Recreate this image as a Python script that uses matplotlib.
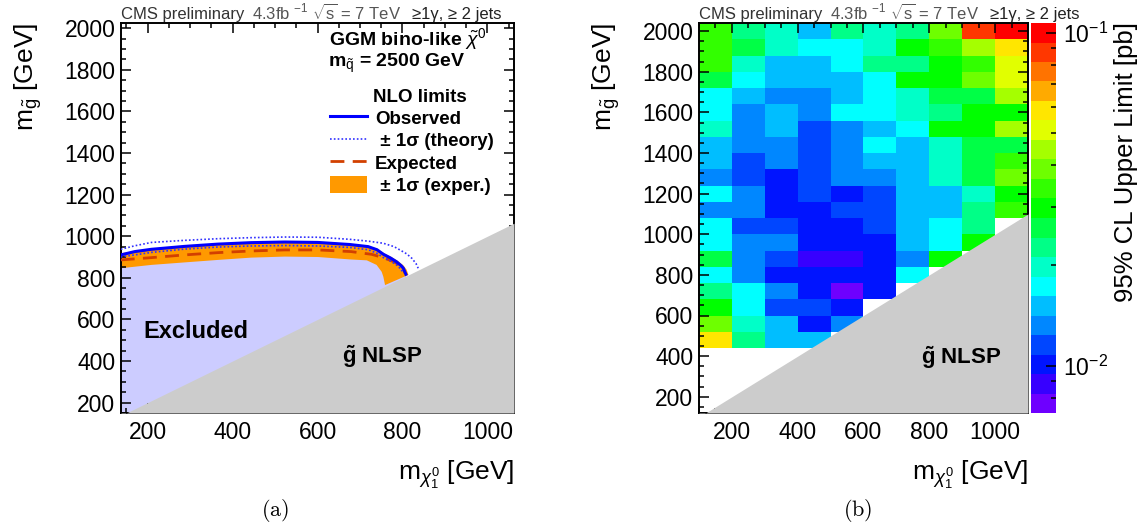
import matplotlib
matplotlib.use("Agg")
import matplotlib.pyplot as plt
from matplotlib.colors import ListedColormap, LogNorm
from matplotlib.ticker import MultipleLocator, NullFormatter, LogLocator
from matplotlib.lines import Line2D
from matplotlib.patches import Patch
import numpy as np

plt.rcParams['font.family'] = ['Liberation Sans', 'DejaVu Sans']
plt.rcParams['mathtext.fontset'] = 'custom'
plt.rcParams['mathtext.rm'] = 'Liberation Sans'
plt.rcParams['mathtext.it'] = 'Liberation Sans:italic'
plt.rcParams['mathtext.bf'] = 'Liberation Sans:bold'

# ---- (a) exclusion contours, m_chi (x) vs m_gluino (y) in GeV
obs_x = np.array([137, 170, 209, 287, 366, 444, 523, 601, 676, 719, 740, 755, 772, 786, 797, 802, 808])
obs_y = np.array([910, 926, 937, 951, 962, 969, 972, 970, 960, 950, 935, 913, 895, 877, 858, 846, 817])

theo_up_x = np.array([137, 170, 209, 287, 366, 444, 523, 601, 676, 720, 755, 780, 794, 810, 822, 832, 837])
theo_up_y = np.array([937, 954, 970, 980, 988, 993, 996, 995, 985, 976, 966, 950, 934, 915, 894, 868, 846])

theo_dn_x = np.array([137, 209, 287, 366, 444, 523, 601, 676, 719, 740, 755, 772, 786, 797, 802])
theo_dn_y = np.array([900, 922, 938, 948, 953, 955, 953, 946, 935, 918, 897, 880, 862, 840, 822])

exp_x = np.array([137, 209, 287, 366, 444, 523, 601, 679, 708, 727, 755, 780, 795, 802, 806])
exp_y = np.array([886, 897, 910, 921, 929, 934, 934, 926, 918, 913, 897, 877, 860, 848, 822])

band_hi_x = np.array([137, 209, 287, 366, 444, 523, 601, 676, 719, 740, 757, 774, 790, 803, 810, 814])
band_hi_y = np.array([918, 940, 954, 965, 972, 975, 973, 964, 954, 940, 918, 900, 880, 858, 838, 814])

band_lo_x = np.array([137, 209, 287, 366, 444, 523, 601, 679, 716, 739, 751, 755, 759])
band_lo_y = np.array([846, 862, 874, 886, 897, 902, 900, 888, 884, 862, 829, 805, 765])

# ---- (b) 95% CL upper limits [pb]
chi_edges = np.array([100, 200, 300, 400, 500, 600, 700, 800, 900, 1000, 1100])
glu_edges = np.array([440, 520, 600, 680, 760, 840, 920, 1000, 1080, 1160, 1240,
                      1320, 1400, 1480, 1560, 1640, 1720, 1800, 1880, 1960, 2040])
nan = np.nan
# rows listed from top (m_gluino = 2000) to bottom (480)
limits = [
    [0.0340, 0.0227, 0.0198, 0.0151, 0.0227, 0.0198, 0.0227, 0.0389, 0.0874, 0.100],
    [0.0340, 0.0259, 0.0198, 0.0173, 0.0173, 0.0198, 0.0297, 0.0340, 0.0445, 0.0583],
    [0.0340, 0.0198, 0.0151, 0.0151, 0.0173, 0.0227, 0.0227, 0.0297, 0.0340, 0.0509],
    [0.0259, 0.0173, 0.0151, 0.0151, 0.0151, 0.0173, 0.0297, 0.0297, 0.0389, 0.0509],
    [0.0173, 0.0151, 0.0132, 0.0132, 0.0151, 0.0173, 0.0198, 0.0259, 0.0259, 0.0445],
    [0.0173, 0.0132, 0.0151, 0.0132, 0.0173, 0.0173, 0.0198, 0.0227, 0.0297, 0.0297],
    [0.0198, 0.0132, 0.0151, 0.0116, 0.0132, 0.0151, 0.0173, 0.0297, 0.0297, 0.0445],
    [0.0151, 0.0132, 0.0132, 0.0116, 0.0132, 0.0173, 0.0151, 0.0198, 0.0259, 0.0259],
    [0.0151, 0.0116, 0.0132, 0.0116, 0.0132, 0.0151, 0.0151, 0.0198, 0.0259, 0.0340],
    [0.0132, 0.0116, 0.0101, 0.0116, 0.0132, 0.0132, 0.0151, 0.0198, 0.0259, 0.0389],
    [0.0173, 0.0132, 0.0101, 0.0116, 0.0101, 0.0116, 0.0151, 0.0151, 0.0198, 0.0297],
    [0.0132, 0.0132, 0.0101, 0.0101, 0.0116, 0.0116, 0.0151, 0.0151, 0.0227, 0.0340],
    [0.0173, 0.0116, 0.0116, 0.0101, 0.0101, 0.0116, 0.0151, 0.0173, 0.0227, nan],
    [0.0173, 0.0132, 0.0132, 0.0101, 0.0101, 0.0101, 0.0151, 0.0173, 0.0297, nan],
    [0.0259, 0.0132, 0.0116, 0.0088, 0.0088, 0.0101, 0.0132, 0.0297, nan, nan],
    [0.0173, 0.0132, 0.0101, 0.0101, 0.0101, 0.0101, 0.0173, nan, nan, nan],
    [0.0227, 0.0173, 0.0132, 0.0101, 0.0077, 0.0101, nan, nan, nan, nan],
    [0.0297, 0.0173, 0.0116, 0.0116, 0.0101, nan, nan, nan, nan, nan],
    [0.0389, 0.0198, 0.0151, 0.0101, 0.0132, nan, nan, nan, nan, nan],
    [0.0583, 0.0227, 0.0151, 0.0151, nan, nan, nan, nan, nan, nan],
]
z_min, z_max = 0.0072, 0.107

# ROOT-like 20 step rainbow palette
palette = ['#6e00ff', '#3700ff', '#0014ff', '#0046ff', '#0087ff', '#00beff', '#00ffff',
           '#00ffc8', '#00ff87', '#00ff46', '#00ff00', '#32ff00', '#6eff00', '#a5ff00',
           '#e1ff00', '#ffe600', '#ffaa00', '#ff7300', '#ff3700', '#ff0000']

W, H = 1146, 526
fig = plt.figure(figsize=(W / 100, H / 100), dpi=100)


def px(x0, y0, x1, y1):
    return [x0 / W, 1 - y1 / H, (x1 - x0) / W, (y1 - y0) / H]


ax_a = fig.add_axes(px(121, 23, 514, 413))
ax_b = fig.add_axes(px(699, 23, 1028, 413))
cax = fig.add_axes(px(1031, 23, 1056, 413))

gray = '#cccccc'


def style_axes(ax):
    ax.xaxis.set_major_locator(MultipleLocator(200))
    ax.xaxis.set_minor_locator(MultipleLocator(50))
    ax.yaxis.set_major_locator(MultipleLocator(200))
    ax.yaxis.set_minor_locator(MultipleLocator(50))
    ax.tick_params(which='both', direction='in', top=True, right=True, width=1.1,
                   labelsize=16.5)
    ax.tick_params(which='major', length=7.5)
    ax.tick_params(which='minor', length=3.8)
    ax.tick_params(axis='x', pad=6)
    ax.tick_params(axis='y', pad=4)
    for s in ax.spines.values():
        s.set_linewidth(1.4)


def header(ax):
    x0 = ax.get_position().x0 * W
    yb = 1 - 19.5 / H
    fig.text((x0 + 0) / W, yb, 'CMS preliminary', fontsize=12, color='#333333', va='baseline')
    fig.text((x0 + 131) / W, yb, r'4.3fb $^{-1}$ $\sqrt{\rm s}$ = 7 TeV', fontsize=12,
             color='#555555', va='baseline')
    fig.text((x0 + 381) / W, yb, '≥1γ, ≥ 2 jets', fontsize=12, color='#222222',
             va='baseline', ha='right')


# ---------------- panel (a)
ax_a.set_xlim(137.5, 1062.5)
ax_a.set_ylim(150, 2025)
ylo = ax_a.get_ylim()[0]
ax_a.fill_between(obs_x, ylo, obs_y, color='#ccccff', lw=0, zorder=1)
ax_a.fill(np.concatenate([band_hi_x, band_lo_x[::-1]]),
          np.concatenate([band_hi_y, band_lo_y[::-1]]), color='#ff9900', lw=0, zorder=2)
ax_a.plot(exp_x, exp_y, color='#d24000', lw=2, ls=(0, (5, 3)), zorder=3)
ax_a.plot(theo_up_x, theo_up_y, color='#3030ff', lw=1.2, ls=(0, (1, 1.3)), zorder=3)
ax_a.plot(theo_dn_x, theo_dn_y, color='#3030ff', lw=1.2, ls=(0, (1, 1.3)), zorder=3)
ax_a.plot(obs_x, obs_y, color='#0000ff', lw=2.2, zorder=4)
diag = np.array(ax_a.get_xlim())
ax_a.fill_between(diag, ylo, diag, color=gray, lw=0, zorder=5)
style_axes(ax_a)
ax_a.set_axisbelow(False)

ax_a.text(190, 540, 'Excluded', fontsize=17, fontweight='bold', va='center', zorder=6)
ax_a.text(753, 420, r'$\mathbf{\tilde{g}}$ NLSP', fontsize=16, fontweight='bold',
          ha='center', va='center', zorder=6)
ax_a.text(0.529, 0.959, r'GGM bino-like $\tilde{\chi}^{0}$', transform=ax_a.transAxes,
          fontsize=14, fontweight='bold', va='center')
ax_a.text(0.527, 0.897, r'm$_{\tilde{\rm q}}$ = 2500 GeV', transform=ax_a.transAxes,
          fontsize=14, fontweight='bold', va='center')
ax_a.text(0.641, 0.808, 'NLO limits', transform=ax_a.transAxes,
          fontsize=13.5, fontweight='bold', va='center')
handles = [Line2D([], [], color='#0000ff', lw=2.2),
           Line2D([], [], color='#3030ff', lw=1.2, ls=(0, (1, 1.3))),
           Line2D([], [], color='#d24000', lw=2, ls=(0, (5, 3))),
           Patch(facecolor='#ff9900', edgecolor='none')]
labels = ['Observed', ' ± 1σ (theory)', 'Expected', ' ± 1σ (exper.)']
ax_a.legend(handles, labels, loc='upper left', bbox_to_anchor=(0.532, 0.78),
            frameon=False, prop={'weight': 'bold', 'size': 13.5}, handlelength=1.95,
            handleheight=1.0, handletextpad=0.45, labelspacing=0.2, borderpad=0,
            borderaxespad=0)
header(ax_a)

# ---------------- panel (b)
cmap = ListedColormap(palette)
cmap.set_bad((1, 1, 1, 0))
norm = LogNorm(vmin=z_min, vmax=z_max)
Z = np.ma.masked_invalid(np.array(limits)[::-1])
mesh = ax_b.pcolormesh(chi_edges, glu_edges, Z, cmap=cmap, norm=norm, zorder=1)
ax_b.set_xlim(100, 1100)
ax_b.set_ylim(120, 2040)
ylo_b = ax_b.get_ylim()[0]
diag_b = np.array(ax_b.get_xlim())
ax_b.fill_between(diag_b, ylo_b, diag_b, color=gray, lw=0, zorder=5)
style_axes(ax_b)
ax_b.text(898, 391, r'$\mathbf{\tilde{g}}$ NLSP', fontsize=16, fontweight='bold',
          ha='center', va='center', zorder=6)
header(ax_b)

cb = fig.colorbar(mesh, cax=cax)
cb.outline.set_visible(False)
cax.yaxis.set_major_locator(LogLocator(base=10))
cax.yaxis.set_minor_formatter(NullFormatter())
cax.tick_params(which='both', direction='in', right=True, left=False, labelsize=16.5,
                width=1.1, pad=5)
cax.tick_params(which='major', length=7)
cax.tick_params(which='minor', length=3.5)

# ---------------- axis titles
for ax in (ax_a, ax_b):
    pos = ax.get_position()
    x_left = pos.x0 * W
    fig.text((x_left - 93) / W, 1 - 23 / H, r'm$_{\tilde{\rm g}}$ [GeV]', rotation=90,
             fontsize=19, ha='center', va='top')
    fig.text(pos.x1, 1 - 480 / H, r'm$_{\chi^0_1}$ [GeV]', fontsize=19, ha='right',
             va='baseline')

fig.text(1126 / W, 1 - 22 / H, '95% CL Upper Limit [pb]', rotation=90, fontsize=18.5,
         ha='center', va='top')

fig.text(275 / W, 1 - 511 / H, r'$\mathrm{(a)}$', fontsize=16, ha='center', va='center',
         math_fontfamily='cm')
fig.text(858 / W, 1 - 511 / H, r'$\mathrm{(b)}$', fontsize=16, ha='center', va='center',
         math_fontfamily='cm')

fig.savefig('out.png', dpi=100)
